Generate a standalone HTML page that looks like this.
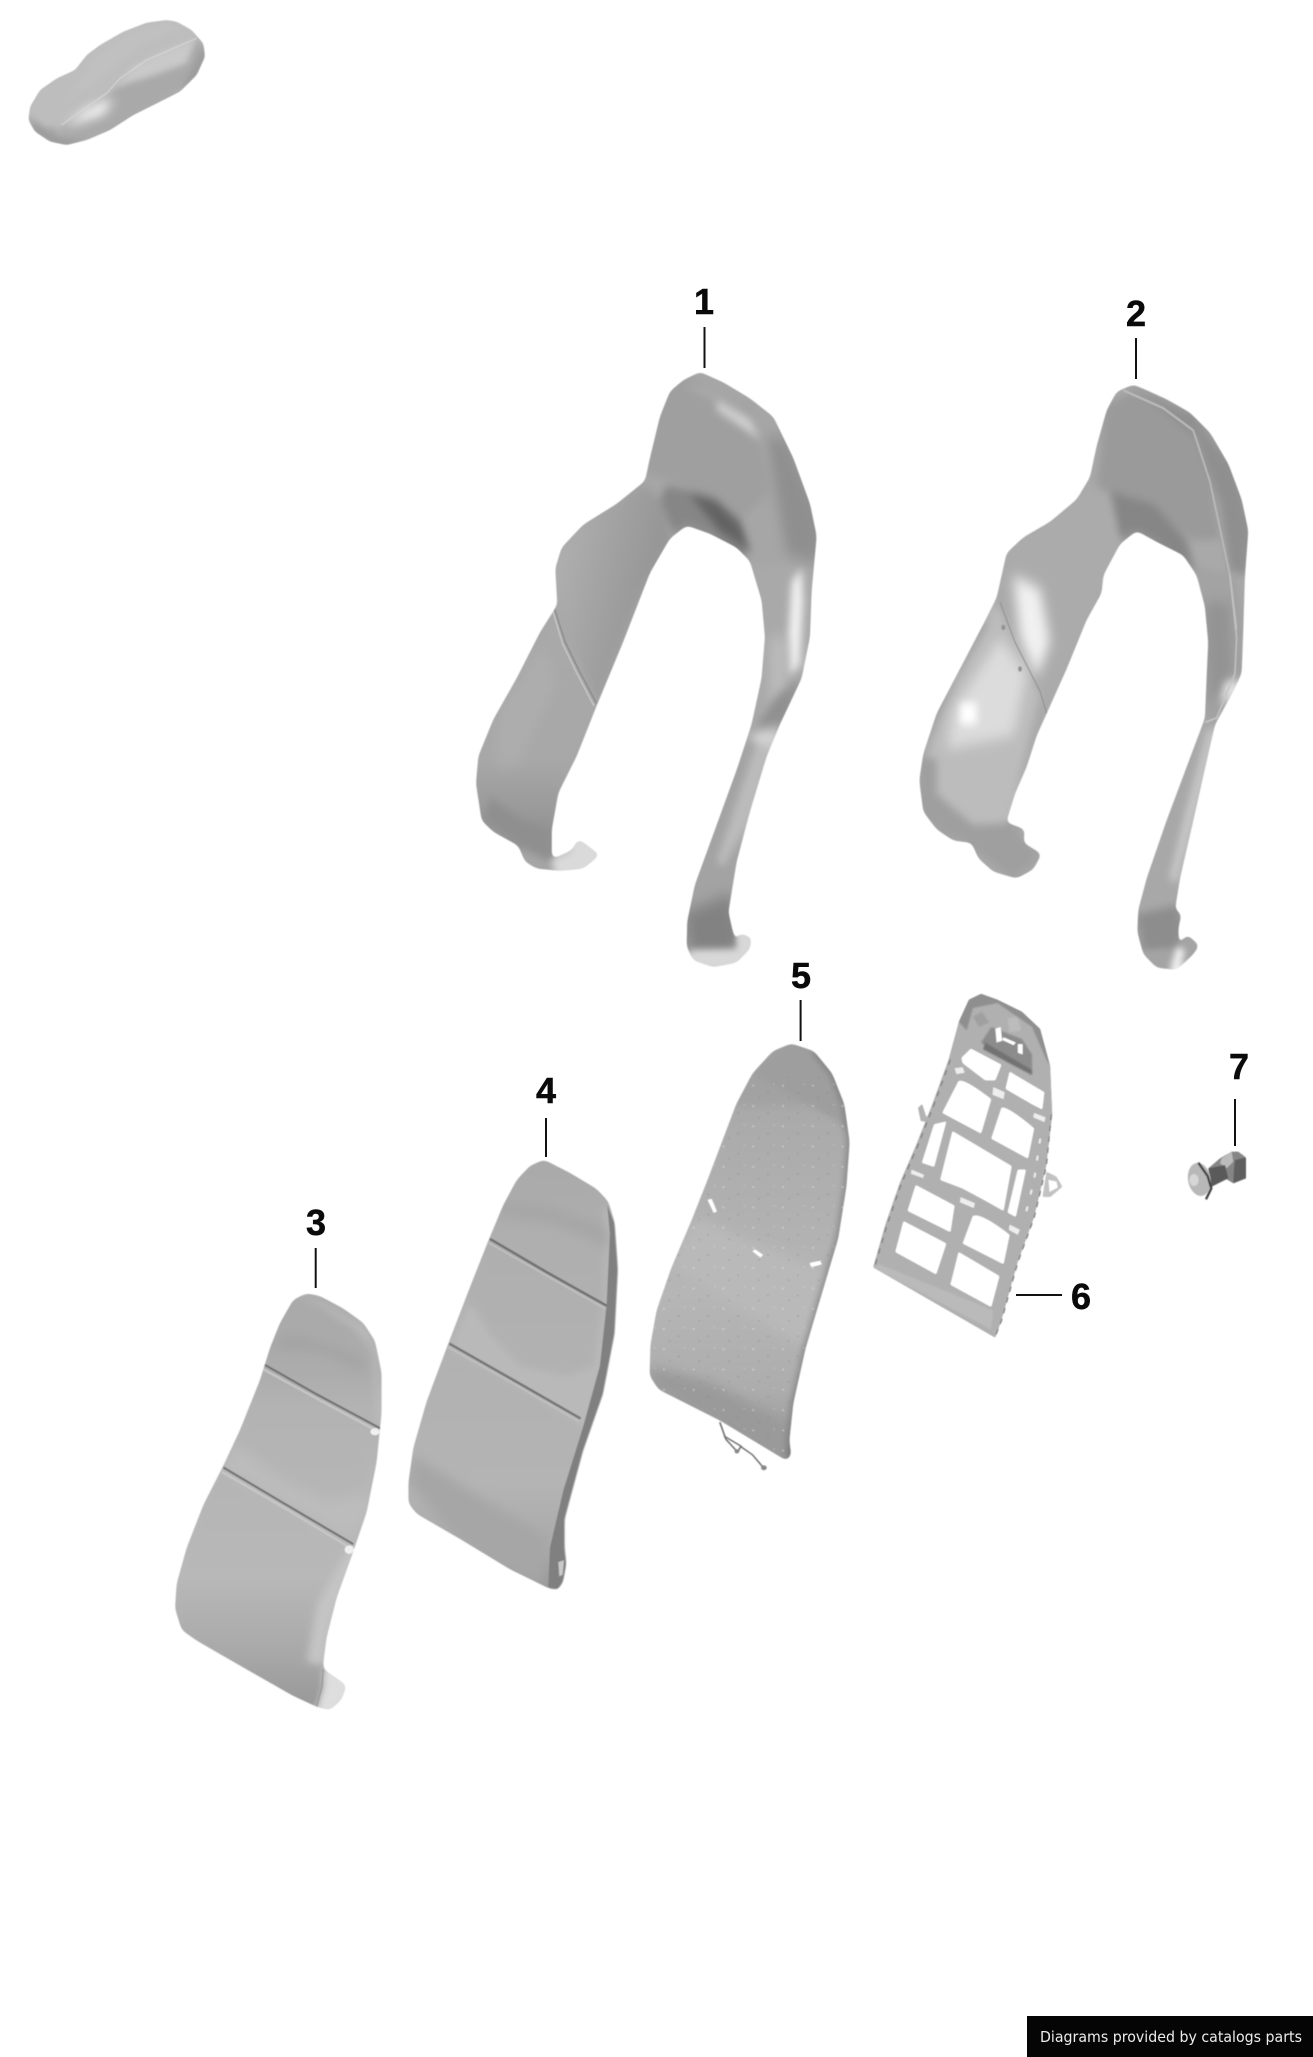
<!DOCTYPE html>
<html><head><meta charset="utf-8"><style>
html,body{margin:0;padding:0;background:#fff;width:1313px;height:2057px;overflow:hidden}
svg{display:block}
.n{font-family:"Liberation Sans",sans-serif;font-weight:bold;font-size:36px;fill:#0a0a0a;stroke:#0a0a0a;stroke-width:.5;text-anchor:middle}
</style></head><body>
<svg width="1313" height="2057" viewBox="0 0 1313 2057" xmlns="http://www.w3.org/2000/svg">
<defs>
<filter id="soft" x="-5%" y="-5%" width="110%" height="110%"><feGaussianBlur stdDeviation="0.6"/></filter>
<filter id="f3" x="-10%" y="-10%" width="120%" height="120%" color-interpolation-filters="sRGB"><feGaussianBlur stdDeviation="3.2"/><feComponentTransfer><feFuncA type="linear" slope="9" intercept="-4"/></feComponentTransfer></filter>
<filter id="f2" x="-10%" y="-10%" width="120%" height="120%" color-interpolation-filters="sRGB"><feGaussianBlur stdDeviation="2.2"/><feComponentTransfer><feFuncA type="linear" slope="9" intercept="-4"/></feComponentTransfer></filter>
<filter id="f1" x="-10%" y="-10%" width="120%" height="120%" color-interpolation-filters="sRGB"><feGaussianBlur stdDeviation="0.8"/><feComponentTransfer><feFuncA type="linear" slope="6" intercept="-3"/></feComponentTransfer></filter>
<filter id="b1" x="-30%" y="-30%" width="160%" height="160%"><feGaussianBlur stdDeviation="6"/></filter>
<filter id="b2" x="-50%" y="-50%" width="200%" height="200%"><feGaussianBlur stdDeviation="14"/></filter>
<filter id="b3" x="-60%" y="-60%" width="220%" height="220%"><feGaussianBlur stdDeviation="30"/></filter>
<linearGradient id="g3" x1="0" y1="0" x2="0" y2="1"><stop offset="0" stop-color="#a9a9a9"/><stop offset=".2" stop-color="#acacac"/><stop offset=".28" stop-color="#b3b3b3"/><stop offset=".68" stop-color="#b8b8b8"/><stop offset=".85" stop-color="#a9a9a9"/><stop offset="1" stop-color="#959595"/></linearGradient>
<linearGradient id="g4" x1="0" y1="0" x2="0" y2="1"><stop offset="0" stop-color="#a9a9a9"/><stop offset=".2" stop-color="#afafaf"/><stop offset=".75" stop-color="#b4b4b4"/><stop offset=".9" stop-color="#a9a9a9"/><stop offset="1" stop-color="#929292"/></linearGradient>
<linearGradient id="g5" x1="0" y1="0" x2="0" y2="1"><stop offset="0" stop-color="#a0a0a0"/><stop offset=".15" stop-color="#a3a3a3"/><stop offset=".17" stop-color="#aaaaaa"/><stop offset=".6" stop-color="#b6b6b6"/><stop offset=".82" stop-color="#adadad"/><stop offset="1" stop-color="#949494"/></linearGradient>
<linearGradient id="gw" x1="0" y1="0" x2="1" y2=".4"><stop offset="0" stop-color="#b3b3b3"/><stop offset="1" stop-color="#929292"/></linearGradient>
<linearGradient id="gl" x1="0" y1="0" x2="0" y2="1"><stop offset="0" stop-color="#a9a9a9"/><stop offset=".6" stop-color="#a8a8a8"/><stop offset="1" stop-color="#8c8c8c"/></linearGradient>
<pattern id="sp" width="73" height="59" patternUnits="userSpaceOnUse"><circle cx="10" cy="12" r="2.5" fill="#e4e4e4"/><circle cx="46" cy="33" r="2" fill="#808080"/><circle cx="61" cy="8" r="1.6" fill="#e8e8e8"/><circle cx="24" cy="47" r="2" fill="#848484"/></pattern>
<clipPath id="c1"><polygon points="750,222 700,240 660,265 630,320 600,410 585,460 500,510 400,555 335,605 316,650 322,730 270,790 200,890 130,980 85,1060 78,1120 95,1200 130,1225 205,1255 225,1290 260,1305 330,1310 400,1305 450,1275 385,1240 365,1265 305,1285 305,1220 325,1140 380,1060 440,950 520,810 600,660 660,585 710,557 780,575 860,605 900,635 935,720 945,800 935,890 905,990 860,1090 790,1230 735,1340 712,1420 710,1475 730,1505 790,1520 860,1510 900,1480 905,1455 865,1445 860,1480 835,1400 860,1290 900,1180 950,1060 990,990 1055,890 1080,800 1085,700 1100,580 1080,510 1030,410 970,320 900,280 820,245"/></clipPath>
<clipPath id="c2"><polygon points="700,212 650,228 620,270 590,350 570,420 530,470 450,520 370,555 320,590 305,640 290,690 250,750 180,850 110,950 70,1040 58,1100 70,1170 110,1210 160,1235 215,1240 235,1275 280,1305 350,1320 400,1300 425,1265 370,1240 375,1210 340,1200 318,1195 345,1130 380,1070 410,1000 440,950 500,850 560,740 605,680 610,640 660,570 710,540 770,565 850,595 890,640 915,710 925,790 920,870 915,960 870,1050 800,1190 740,1320 715,1390 712,1440 730,1490 770,1520 830,1525 880,1490 898,1470 860,1445 835,1475 835,1430 845,1400 825,1390 840,1320 880,1190 910,1090 945,975 1000,900 1025,860 1030,760 1035,640 1045,540 1025,470 985,390 930,320 870,275 800,245 740,225"/></clipPath>
<clipPath id="c3"><polygon points="440,317 400,335 360,400 330,470 300,560 240,700 190,800 130,910 80,1030 50,1130 45,1200 65,1260 110,1290 250,1365 400,1445 470,1475 510,1485 545,1455 560,1415 490,1370 490,1350 500,1280 530,1170 580,1040 620,930 650,790 665,650 665,540 645,450 610,400 550,360 480,325"/></clipPath>
<clipPath id="c4"><polygon points="1152,-57 1110,-40 1070,0 1030,70 985,170 930,300 860,470 800,620 760,750 745,850 745,905 770,935 900,1005 1050,1090 1170,1145 1195,1148 1210,1125 1220,1075 1215,1030 1215,950 1270,760 1330,600 1365,430 1375,250 1365,120 1345,60 1310,25 1230,-20"/></clipPath>
<clipPath id="c5"><polygon points="395,243 350,265 300,330 260,420 225,530 190,640 150,760 100,900 65,1020 50,1120 48,1210 70,1250 220,1340 385,1458 395,1440 390,1400 400,1290 430,1130 470,970 510,810 530,660 538,530 525,420 495,330 450,265"/></clipPath>
<clipPath id="ccar"><polygon points="500,60 440,68 370,95 300,135 260,165 225,210 170,235 120,270 90,320 85,360 105,395 150,425 200,435 260,420 330,390 400,345 470,310 540,275 590,225 615,170 610,130 575,90 530,65"/></clipPath>
</defs>

<g filter="url(#soft)">
<!-- car -->
<g filter="url(#f2)"><g transform="scale(.3333)">
<g clip-path="url(#ccar)">
<rect x="60" y="40" width="580" height="420" fill="#bdbdbd"/>
<polygon points="180,385 300,300 350,265 440,195 600,115 620,170 590,240 470,320 330,400 200,445 170,430" fill="#a9a9a9" filter="url(#b1)"/>
<polygon points="350,260 400,200 500,150 590,115 560,190 450,230" fill="#c9c9c9" filter="url(#b1)"/>
<polygon points="80,340 110,395 170,430 175,385 130,380" fill="#a6a6a6" filter="url(#b1)"/>
<polygon points="190,385 260,325 345,295 310,345 220,375" fill="#f4f4f4" filter="url(#b2)"/>
<polygon points="280,330 330,290 300,320" fill="#fff" filter="url(#b1)"/>
<polygon points="200,300 280,170 380,100 500,62 550,85 420,140 300,240" fill="#c0c0c0" filter="url(#b1)"/>
<polygon points="85,360 105,395 150,425 200,435 260,420 200,420 150,405 100,370" fill="#979797" filter="url(#b1)"/>
<polygon points="610,130 620,170 590,240 540,270 570,220 595,170" fill="#9b9b9b" filter="url(#b1)"/>
</g></g></g>
<g transform="scale(.3333)" clip-path="url(#ccar)"><polyline points="185,375 260,320 320,280 360,235 440,180 590,115" fill="none" stroke="#d8d8d8" stroke-width="3"/></g>

<!-- part 1 -->
<g filter="url(#f3)"><g transform="translate(450,270) scale(.3333,.4587)">
<g clip-path="url(#c1)">
<rect x="50" y="200" width="1100" height="1350" fill="#a6a6a6"/>
<polygon points="600,280 700,230 900,300 960,480 880,540 700,470 590,440" fill="#9f9f9f" filter="url(#b1)"/>
<polygon points="950,360 1010,370 1110,540 1110,640 1010,620" fill="#8f8f8f" filter="url(#b2)"/>
<polygon points="690,250 780,255 860,290 930,340 900,320 830,300" fill="#a9a9a9" filter="url(#b1)"/>
<polygon points="800,285 900,325 930,370 890,350 800,305" fill="#d2d2d2" filter="url(#b1)"/>
<polygon points="585,470 500,510 400,555 330,610 316,650 322,730 440,945 560,720 660,585 640,510" fill="url(#gw)" filter="url(#b1)"/>
<polygon points="322,735 437,945 330,1130 305,1285 210,1260 90,1205 75,1100 130,980" fill="url(#gl)" filter="url(#b1)"/>
<polygon points="150,960 280,820 320,900 200,1080 140,1080" fill="#adadad" filter="url(#b2)"/>
<polygon points="100,1200 210,1250 300,1290 305,1220 220,1200 120,1150" fill="#8f8f8f" filter="url(#b1)"/>
<polygon points="650,470 780,490 870,540 905,615 880,620 780,575 710,555 670,575 630,500" fill="#868686" filter="url(#b1)"/>
<polygon points="720,490 800,505 870,555 895,610 810,570" fill="#646464" filter="url(#b1)"/>
<polygon points="900,650 1000,640 1090,660 1080,800 1050,890 990,990 905,1000 945,800 935,720" fill="#a9a9a9" filter="url(#b1)"/>
<polygon points="1025,680 1055,650 1060,720 1050,860 1020,885 1015,800" fill="#f0f0f0" filter="url(#b1)"/>
<polygon points="960,800 1010,800 1010,900 960,960" fill="#bcbcbc" filter="url(#b2)"/>
<polygon points="1050,890 1000,985 920,995 980,930" fill="#909090" filter="url(#b1)"/>
<polygon points="915,1005 990,995 950,1060 900,1180 860,1290 835,1400 865,1445 860,1480 720,1500 705,1400 735,1340 790,1230 860,1090" fill="#a3a3a3"/>
<polygon points="915,1008 985,1000 955,1060 900,1020" fill="#d2d2d2" filter="url(#b1)"/>
<polygon points="920,1030 960,1040 890,1210 820,1300 800,1290" fill="#bcbcbc" filter="url(#b1)"/>
<polygon points="705,1400 840,1360 865,1445 860,1490 720,1490" fill="#828282" filter="url(#b2)"/>
<polygon points="720,1482 860,1480 865,1445 915,1450 905,1485 860,1520 790,1530 730,1515" fill="#d8d8d8"/>
<polygon points="300,1290 365,1268 385,1235 465,1275 400,1315 330,1320" fill="#dadada"/>
</g></g></g>
<g transform="translate(450,270) scale(.3333,.4587)" clip-path="url(#c1)">
<polyline points="312,735 345,810 385,870 440,945" fill="none" stroke="#808080" stroke-width="3"/>
<polyline points="306,738 338,815 378,875 432,950" fill="none" stroke="#d0d0d0" stroke-width="3"/>
</g>

<!-- part 2 -->
<g filter="url(#f3)"><g transform="translate(900,290) scale(.3333,.4458)">
<g clip-path="url(#c2)">
<rect x="40" y="200" width="1100" height="1350" fill="#a9a9a9"/>
<polygon points="590,440 620,260 700,225 880,300 930,400 960,560 880,560 700,470 620,450" fill="#9a9a9a" filter="url(#b1)"/>
<polygon points="690,215 880,280 1000,400 1050,540 1035,640 990,630 960,480 890,330 760,255" fill="#8f8f8f" filter="url(#b1)"/>
<polygon points="630,450 760,480 860,560 890,640 770,565 710,540 660,560" fill="#868686" filter="url(#b1)"/>
<polygon points="570,440 450,520 370,555 320,590 300,680 440,945 560,740 660,570 630,470" fill="#ababab" filter="url(#b1)"/>
<polygon points="340,640 420,670 450,790 410,870 360,780" fill="#f2f2f2" filter="url(#b2)"/>
<polygon points="290,700 420,910 345,1130 320,1200 215,1240 110,1200 60,1110 120,940" fill="#bcbcbc" filter="url(#b1)"/>
<polygon points="160,940 300,780 380,860 340,1000 140,1030" fill="#dcdcdc" filter="url(#b2)"/>
<polygon points="180,925 230,925 230,975 180,975" fill="#fff" filter="url(#b1)"/>
<polygon points="110,1050 60,1050 55,1170 130,1220 200,1240 340,1320 420,1270 370,1240 340,1195 220,1200 110,1130" fill="#9f9f9f" filter="url(#b1)"/>
<polygon points="70,1040 170,870 270,740 230,760 120,920" fill="#9b9b9b" filter="url(#b1)"/>
<polygon points="890,620 1010,640 1030,760 1025,860 1000,900 945,975 920,960 920,800" fill="#a3a3a3" filter="url(#b1)"/>
<polygon points="915,700 990,700 1000,860 930,940" fill="#939393" filter="url(#b2)"/>
<polygon points="975,880 1010,870 1005,905 960,930" fill="#e4e4e4" filter="url(#b1)"/>
<polygon points="915,970 945,975 880,1190 840,1320 825,1390 845,1440 715,1440 740,1320 800,1190 870,1050" fill="#a8a8a8"/>
<polygon points="925,985 940,985 860,1230 825,1330 810,1320 860,1170" fill="#d2d2d2" filter="url(#b1)"/>
<polygon points="712,1400 830,1380 850,1440 810,1500 730,1480" fill="#8d8d8d" filter="url(#b1)"/>
<polygon points="730,1480 835,1475 860,1445 905,1470 885,1495 830,1535 770,1530" fill="#a4a4a4"/>
<polygon points="810,1525 830,1475 855,1480 835,1530" fill="#f2f2f2"/>
</g></g></g>
<g transform="translate(900,290) scale(.3333,.4458)" clip-path="url(#c2)">
<polyline points="670,225 790,265 880,315 930,430 990,640 1010,760" fill="none" stroke="#bbbbbb" stroke-width="5"/>
<polyline points="990,640 1010,780 1005,860 950,960 915,970" fill="none" stroke="#c5c5c5" stroke-width="4"/>
<polyline points="300,700 345,790 420,900 440,950" fill="none" stroke="#8f8f8f" stroke-width="3"/>
<circle cx="310" cy="757" r="6" fill="#939393"/><circle cx="360" cy="850" r="6" fill="#939393"/>
</g>

<!-- part 3 -->
<g filter="url(#f3)"><g transform="translate(160,1180) scale(.3333,.3571)">
<g clip-path="url(#c3)">
<rect x="30" y="300" width="650" height="1200" fill="url(#g3)"/>
<polygon points="330,470 380,430 470,450 610,500 620,540 600,530 480,480" fill="#a3a3a3" filter="url(#b2)"/>
<polygon points="400,325 480,340 610,410 650,470 665,680 650,680 640,480 590,420 480,350" fill="#bcbcbc" filter="url(#b1)"/>
<polygon points="230,740 350,830 500,900 620,880 640,760 650,700 620,950 560,1000 190,810" fill="#bcbcbc" filter="url(#b2)"/>
<polygon points="560,1040 600,1010 530,1180 500,1280 490,1360 440,1350 470,1190" fill="#c4c4c4" filter="url(#b1)"/>
<polygon points="490,1365 570,1410 545,1460 510,1495 470,1480 490,1420" fill="#dedede"/>
</g></g></g>
<g transform="translate(160,1180) scale(.3333,.3571)" clip-path="url(#c3)">
<polyline points="490,1370 486,1420 470,1475" fill="none" stroke="#8c8c8c" stroke-width="3"/>
<polyline points="315,518 470,600 660,695" fill="none" stroke="#707070" stroke-width="6"/>
<polyline points="310,530 470,612 655,705" fill="none" stroke="#c7c7c7" stroke-width="6"/>
<polyline points="190,805 380,910 580,1020" fill="none" stroke="#707070" stroke-width="6"/>
<polyline points="185,817 380,922 570,1030" fill="none" stroke="#c7c7c7" stroke-width="6"/>
<ellipse cx="645" cy="705" rx="14" ry="10" fill="#f0f0f0"/>
<ellipse cx="568" cy="1035" rx="14" ry="12" fill="#f0f0f0"/>
</g>

<!-- part 4 -->
<g filter="url(#f3)"><g transform="translate(160,1180) scale(.3333,.3571)">
<g clip-path="url(#c4)">
<rect x="730" y="-70" width="670" height="1230" fill="url(#g4)"/>
<polygon points="1330,70 1345,90 1350,150 1340,350 1320,520 1270,690 1255,680 1305,520 1330,350 1340,160" fill="#bcbcbc"/>
<polygon points="930,340 990,430 1080,520 1220,550 1300,520 1260,680 1100,590 870,470" fill="#b9b9b9" filter="url(#b1)"/>
<polygon points="1020,60 1160,70 1340,130 1345,190 1180,120 1010,100" fill="#a6a6a6" filter="url(#b2)"/>
<polygon points="745,850 760,770 1000,910 1160,1000 1150,1145 900,1010" fill="#a6a6a6" filter="url(#b2)"/>
</g></g></g>
<g transform="translate(160,1180) scale(.3333,.3571)" clip-path="url(#c4)">
<polygon points="1342,70 1362,120 1372,250 1362,430 1327,600 1267,760 1212,950 1212,1030 1217,1075 1207,1125 1192,1145 1165,1140 1170,1030 1210,870 1270,690 1320,520 1340,350 1350,150" fill="#808080"/>
<polygon points="1195,1070 1212,1065 1208,1105 1198,1110" fill="#cacaca"/>
<polyline points="990,165 1160,258 1340,352" fill="none" stroke="#707070" stroke-width="7"/>
<polyline points="986,176 1160,268 1334,360" fill="none" stroke="#c2c2c2" stroke-width="4"/>
<polyline points="868,458 1060,560 1262,668" fill="none" stroke="#757575" stroke-width="7"/>
<polyline points="864,468 1060,570 1256,676" fill="none" stroke="#c2c2c2" stroke-width="4"/>
</g>

<!-- part 5 -->
<g filter="url(#f3)"><g transform="translate(630,960) scale(.4082,.3436)">
<g clip-path="url(#c5)">
<rect x="30" y="230" width="530" height="1240" fill="url(#g5)"/>
<polygon points="395,243 300,330 320,345 510,470 530,500 500,320 450,265" fill="#9e9e9e"/>
<polygon points="100,890 160,750 500,920 430,1130 390,1100" fill="#b9b9b9" filter="url(#b2)"/>
<polygon points="48,1180 48,1240 385,1470 405,1360 200,1230" fill="#9a9a9a" filter="url(#b2)"/>
<polyline points="450,265 495,330 525,420 538,530 530,660 510,810 470,970 430,1130 400,1290 390,1400 390,1450" fill="none" stroke="#727272" stroke-width="11"/>
</g></g></g>
<g transform="translate(630,960) scale(.4082,.3436)">
<rect x="40" y="340" width="510" height="1120" fill="url(#sp)" opacity=".6" clip-path="url(#c5)"/>
<polygon points="190,698 200,695 213,732 205,736" fill="#fff"/>
<polygon points="300,848 306,842 326,858 320,866" fill="#fff"/>
<polygon points="440,882 466,875 470,886 444,894" fill="#fff"/>
<g fill="none" stroke="#707070" stroke-width="4"><polyline points="220,1345 235,1395 262,1430"/><polyline points="230,1385 272,1415 262,1435"/><polyline points="270,1415 300,1440 330,1482"/></g>
<circle cx="262" cy="1430" r="6" fill="#888"/><circle cx="328" cy="1478" r="7" fill="#888"/>
</g>

<!-- part 6 -->
<g filter="url(#f1)"><g transform="translate(630,960) scale(.4082,.3436)">
<polygon points="705,430 716,418 730,470 712,470" fill="#b3b3b3"/>
<polygon points="1020,615 1045,630 1060,660 1030,690 1010,690" fill="#c2c2c2"/>
<path fill-rule="evenodd" fill="#b0b0b0" d="M860,98 L830,115 805,180 780,290 740,420 700,540 660,650 625,770 595,895 895,1100 910,1050 950,880 990,750 1020,600 1035,450 1030,310 1005,200 960,150 900,115Z
M835,258 L910,305 895,350 870,350 815,300 812,285Z
M930,325 L1015,385 1010,435 985,420 920,375Z
M805,352 Q820,345 885,405 L860,505 765,445Z
M910,430 Q925,425 990,490 L975,578 885,520Z
M790,498 L935,600 915,730 870,700 815,665 760,640Z
M745,478 L775,470 745,602 715,590Z
M950,610 L970,610 945,748 925,735Z
M700,655 L795,715 785,792 680,730Z
M840,745 Q860,735 930,800 L915,885 815,825Z
M670,760 L775,825 750,915 650,850Z
M805,850 L905,920 885,1010 785,945Z"/>
<polygon points="860,98 830,115 805,180 825,205 840,140 900,125 985,195 1020,290 1030,310 1005,200 960,150 900,115" fill="#8f8f8f"/>
<polygon points="860,240 885,195 960,230 985,275 985,335 920,295" fill="#8c8c8c"/>
<polygon points="870,240 985,320 985,335 865,260" fill="#727272"/>
<polygon points="925,170 950,165 958,205 930,210" fill="#bcbcbc"/>
<polygon points="840,165 862,150 880,182 855,195" fill="#a0a0a0"/>
<polygon points="610,885 890,1020 885,1075 595,895" fill="#bababa"/>
</g></g>
<g transform="translate(630,960) scale(.4082,.3436)">
<polygon points="1025,640 1045,645 1048,662 1028,675" fill="#fff"/>
<polygon points="895,200 908,195 912,235 898,240" fill="#fff"/><polygon points="915,225 945,240 940,248 912,233" fill="#fff"/><polygon points="950,245 962,245 962,275 950,270" fill="#fff"/>
<g fill="#eee"><polygon points="795,315 815,312 820,328 800,332"/><polygon points="890,370 918,385 915,405 888,392"/><polygon points="990,445 1018,458 1015,472 988,458"/><polygon points="690,610 720,625 718,635 688,622"/><polygon points="810,690 845,708 842,722 808,705"/><polygon points="930,770 955,785 950,800 928,785"/></g>
<g fill="none" stroke="#7a7a7a" stroke-width="3" stroke-dasharray="16 16"><polyline points="785,290 745,420 705,540 665,650 630,770 600,890"/><polyline points="1032,450 1020,600 990,750 950,880 910,1050 895,1095"/></g>
<polyline points="1005,520 990,640 965,760" fill="none" stroke="#eee" stroke-width="5" stroke-dasharray="14 36"/>
</g>

<!-- part 7 -->
<g transform="translate(1170,1080) scale(.3333)">
<polygon points="150,235 185,215 205,215 225,230 228,295 190,310 165,295 125,320 115,265" fill="#858585"/>
<polygon points="195,240 228,232 228,295 190,310 192,265" fill="#5e5e5e"/>
<polygon points="155,235 185,215 190,245 170,265 150,250" fill="#bcbcbc"/>
<polygon points="115,265 165,255 175,295 125,320" fill="#5a5a5a"/>
<ellipse cx="88" cy="298" rx="34" ry="50" fill="#b8b8b8" transform="rotate(-10 88 298)"/>
<ellipse cx="72" cy="300" rx="14" ry="18" fill="#d6d6d6"/>
<polyline points="85,248 113,288 124,325 108,358" fill="none" stroke="#404040" stroke-width="7"/>
</g>
</g>

<!-- leaders -->
<g stroke="#111" stroke-width="2" fill="none">
<line x1="704.5" y1="327" x2="704.5" y2="368"/>
<line x1="1136" y1="338" x2="1136" y2="379"/>
<line x1="315.7" y1="1248" x2="315.7" y2="1288"/>
<line x1="546" y1="1118" x2="546" y2="1157"/>
<line x1="800.6" y1="1000" x2="800.6" y2="1041"/>
<line x1="1016" y1="1295" x2="1062" y2="1295"/>
<line x1="1235" y1="1099" x2="1235" y2="1146"/>
</g>
<text class="n" x="704" y="314">1</text>
<text class="n" x="1136" y="326">2</text>
<text class="n" x="316" y="1235">3</text>
<text class="n" x="546" y="1103">4</text>
<text class="n" x="801" y="988">5</text>
<text class="n" x="1081" y="1309">6</text>
<text class="n" x="1239" y="1079">7</text>

<rect x="1027" y="2016" width="286" height="41" fill="#050505"/>
<text x="1040" y="2042" font-family="'DejaVu Sans',sans-serif" font-size="15" fill="#ececec" textLength="262" lengthAdjust="spacingAndGlyphs">Diagrams provided by catalogs parts</text>
</svg>
</body></html>
